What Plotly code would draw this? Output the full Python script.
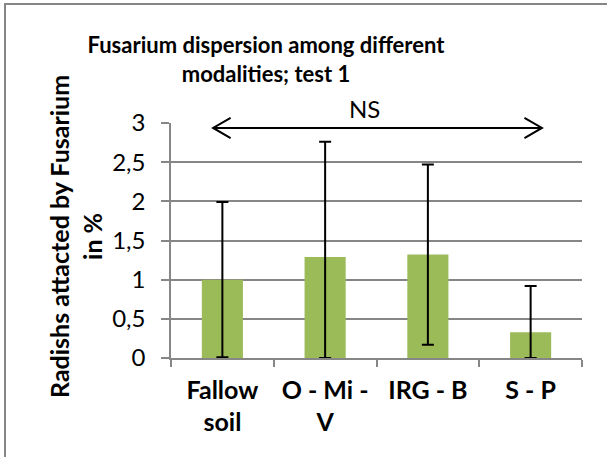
import plotly.graph_objects as go

categories = ["Fallow<br>soil", "O - Mi -<br>V", "IRG - B", "S - P"]
values = [1.0, 1.29, 1.32, 0.33]
errors = [0.99, 1.47, 1.15, 0.59]
y_ticks = [0, 0.5, 1, 1.5, 2, 2.5, 3]

title_text = "Fusarium dispersion among different<br>modalities; test 1"
y_title = "Radishs attacted by Fusarium<br>in %"
ns_label = "NS"

FONT = "Lato"
BAR_COLOR = "#9BBB59"
GRID = "#868686"

err_minus = [min(e, v) for e, v in zip(errors, values)]

fig = go.Figure()
fig.add_trace(go.Bar(
    x=categories,
    y=values,
    width=0.4,
    marker=dict(color=BAR_COLOR, line=dict(width=0)),
    error_y=dict(type="data", array=errors, arrayminus=err_minus,
                 symmetric=False, color="black", thickness=2, width=6),
))

# double-headed arrow spanning the groups (annotation)
ax0, ax1, ay = -0.09, 3.11, 0.979
dx, dy = 0.17, 0.043
arrow_path = (f"M {ax0+dx},{ay+dy} L {ax0},{ay} L {ax0+dx},{ay-dy} "
              f"M {ax0},{ay} L {ax1},{ay} "
              f"M {ax1-dx},{ay+dy} L {ax1},{ay} L {ax1-dx},{ay-dy}")

fig.update_layout(
    width=607, height=457,
    margin=dict(l=171, r=25, t=123, b=99, autoexpand=False),
    paper_bgcolor="white", plot_bgcolor="white",
    separators=", ",
    showlegend=False,
    font=dict(family=FONT, color="black"),
    title=dict(text=f"<b>{title_text}</b>", x=266/607, xanchor="center",
               y=1-53/457, yanchor="top", yref="container",
               font=dict(family=FONT, size=22, color="black"),
               automargin=False),
    xaxis=dict(type="category", range=[-0.5, 3.5], automargin=False,
               showline=True, linecolor=GRID, linewidth=1.5,
               ticks="outside", tickson="boundaries", ticklen=7,
               tickcolor=GRID, tickwidth=1.5, ticklabelstandoff=9,
               tickfont=dict(family=FONT, size=25, color="black", weight="bold"),
               showgrid=False),
    yaxis=dict(range=[0, 3], tickvals=y_ticks, tickformat=".1~f",
               automargin=False,
               showline=True, linecolor=GRID, linewidth=1.5,
               ticks="outside", ticklen=8, tickcolor=GRID, tickwidth=1.5,
               ticklabelstandoff=11,
               showgrid=True, gridcolor=GRID, gridwidth=1.5,
               zeroline=False,
               tickfont=dict(family=FONT, size=24, color="black")),
    shapes=[
        dict(type="path", xref="x", yref="paper", path=arrow_path,
             line=dict(color="black", width=2), layer="above"),
        dict(type="rect", xref="paper", yref="paper",
             x0=(5-171)/411, x1=(640-171)/411,
             y0=(358-470)/235, y1=(358-4)/235,
             line=dict(color=GRID, width=2), fillcolor="rgba(0,0,0,0)",
             layer="below"),
    ],
    annotations=[
        dict(text=ns_label, x=1.38, xref="x", y=(358-108)/235, yref="paper",
             showarrow=False, xanchor="center", yanchor="middle",
             font=dict(family=FONT, size=24, color="black")),
        dict(text=f"<b>{y_title}</b>", textangle=-90,
             x=(75-171)/411, xref="paper", y=(358-237)/235, yref="paper",
             showarrow=False, xanchor="center", yanchor="middle",
             font=dict(family=FONT, size=25, color="black")),
    ],
)

fig.write_html("out.html", config={"displayModeBar": False},
               post_script="document.body.style.margin='0';")
